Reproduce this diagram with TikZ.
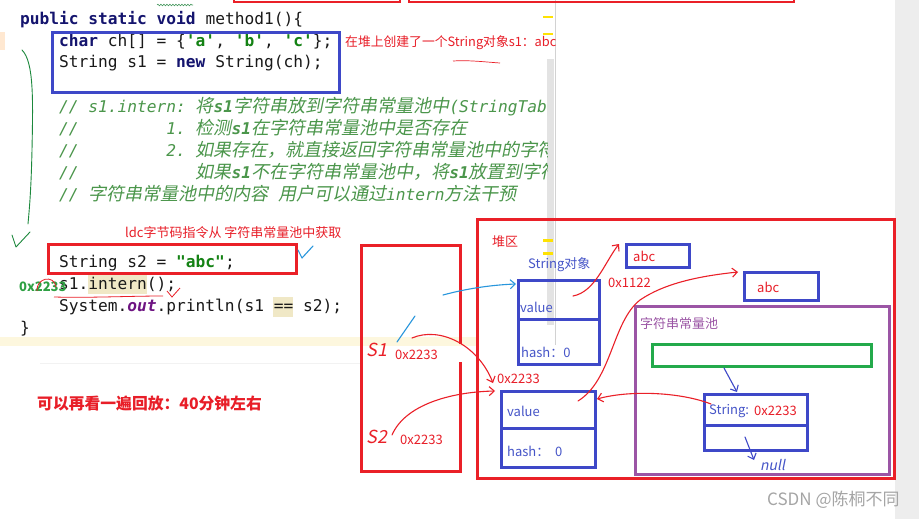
\documentclass[tikz,border=0pt]{standalone}
\usepackage{fontspec}
\usetikzlibrary{arrows.meta,decorations.pathmorphing}
\setmainfont{Noto Sans CJK SC}
\setmonofont{DejaVu Sans Mono}
\newfontfamily\cjkslant[FakeSlant=0.2]{Noto Sans CJK SC}
\newfontfamily\yhfont{Noto Sans CJK SC}
\newcommand\cz[1]{{\cjkslant\fontsize{18}{18}\selectfont #1}}
\definecolor{myred}{RGB}{234,32,40}
\definecolor{annred}{RGB}{232,30,40}
\definecolor{myblue}{RGB}{62,72,200}
\definecolor{txtblue}{RGB}{70,85,200}
\definecolor{mypurple}{RGB}{155,85,165}
\definecolor{mygreen}{RGB}{35,170,75}
\definecolor{penblue}{RGB}{40,150,220}
\definecolor{kwc}{RGB}{20,20,110}
\definecolor{litc}{RGB}{20,130,20}
\definecolor{cmtc}{RGB}{75,150,75}
\definecolor{outc}{RGB}{110,20,130}
\definecolor{hlc}{RGB}{240,232,198}
\definecolor{bandc}{RGB}{253,247,222}
\definecolor{codetxt}{RGB}{25,25,25}
\definecolor{csdngray}{RGB}{165,165,165}
\definecolor{hlgreen}{RGB}{46,160,67}
\newcommand\ckw[1]{{\bfseries\color{kwc}#1}}
\newcommand\clit[1]{{\bfseries\color{litc}#1}}
\begin{document}
\begin{tikzpicture}[x=1pt,y=-1pt,
  codeline/.style={anchor=base west, inner sep=0, text=codetxt, font=\ttfamily\fontsize{16.2}{18}\selectfont},
  cmt/.style={anchor=base west, inner sep=0, text=cmtc, font=\ttfamily\itshape\fontsize{16.2}{18}\selectfont},
  lab/.style={anchor=west, inner sep=0, font=\yhfont\fontsize{13}{13}\selectfont},
  hand/.style={anchor=center, inner sep=0, text=myred, font=\cjkslant\fontsize{18}{18}\selectfont},
  cell/.style={draw=myblue, line width=2.6pt, anchor=north west, inner sep=0},
  redpen/.style={draw=myred, line width=1.1pt, line cap=round, line join=round},
  bluepen/.style={draw=penblue, line width=1.1pt, line cap=round, line join=round},
  navypen/.style={draw=myblue, line width=1.1pt, line cap=round, line join=round},
  greenpen/.style={draw=mygreen!80!black, line width=0.9pt, line cap=round, line join=round},
  barb/.style={-{Straight Barb[length=5pt,width=9pt]}}
]
\useasboundingbox (0,0) rectangle (919,519);
\fill[white] (0,0) rectangle (919,519);
\fill[gray!14] (895,0) rectangle (919,519);

% editor decorations
\fill[bandc] (0,337) rectangle (476,346);
\draw[gray!10, line width=0.8pt] (40,363) -- (360,363);
\fill[orange!18] (0,32) rectangle (5,50);
\fill[hlc] (88,274) rectangle (147,294);
\fill[hlc] (273,297) rectangle (293,317);
\fill[gray!22] (547,59) rectangle (554,325);
\draw[gray!35, line width=0.5pt] (555,0) -- (555,345);
\fill[yellow!85!orange] (543,16) rectangle (553,18.5);
\fill[yellow!85!orange] (543,33) rectangle (553,35.5);
\fill[yellow!85!orange] (543,239) rectangle (553,241.5);
\fill[yellow!85!orange] (543,252) rectangle (553,254.5);

% top remnants
\draw[myred, line width=2.5pt] (234,-3) -- (234,2) -- (400,2) -- (400,-3);
\draw[myred, line width=2.5pt] (409,-3) -- (409,2) -- (794,2) -- (794,-3);
\draw[mygreen!60!gray, line width=0.6pt, decorate, decoration={snake, amplitude=0.8pt, segment length=3pt}] (157,5) -- (193,5);

% code
\node[codeline] (l0) at (20,25) {\ckw{public static void} method1()\{};
\node[codeline] (l1) at (59,47) {\ckw{char} ch[] = \{\clit{'a'}, \clit{'b'}, \clit{'c'}\};};
\node[codeline] (l2) at (59,68) {String s1 = \ckw{new} String(ch);};
\begin{scope}
\clip (0,95) rectangle (547,210);
\node[cmt] (c1) at (59,113) {//~s1.intern:~\cz{将}{\bfseries s1}\cz{字符串放到字符串常量池中}(StringTabl};
\node[cmt] (c2) at (59,134) {//~~~~~~~~~1.~\cz{检测}{\bfseries s1}\cz{在字符串常量池中是否存在}};
\node[cmt] (c3) at (59,157) {//~~~~~~~~~2.~\cz{如果存在，就直接返回字符串常量池中的字符}};
\node[cmt] (c4) at (59,178) {//~~~~~~~~~~~~\cz{如果}{\bfseries s1}\cz{不在字符串常量池中，将}{\bfseries s1}\cz{放置到字符}};
\node[cmt] (c5) at (59,200) {//~\cz{字符串常量池中的内容}~\cz{用户可以通过}intern\cz{方法干预}};
\end{scope}
\node[codeline] (l11) at (59,267) {String s2 = \clit{"abc"};};
\node[codeline] (l12) at (59,289) {s1.intern();};
\node[codeline] (l13) at (59,311) {System.{\bfseries\itshape\color{outc}out}.println(s1 == s2);};
\node[codeline] (l14) at (20,333) {\}};

% code annotations
\node[draw=myblue, line width=2.8pt, anchor=north west, minimum width=287, minimum height=60, inner sep=0] (cbox) at (51,31) {};
\node[lab, text=annred, font=\yhfont\fontsize{12.8}{13}\selectfont] (t1) at (345,43) {在堆上创建了一个String对象s1：abc};
\draw[myred, line width=0.7pt] (453,61) .. controls (470,60) and (485,62) .. (500,63);
\node[lab, text=annred] (t2) at (125,233) {ldc字节码指令从 字符串常量池中获取};
\node[draw=myred, line width=3pt, anchor=north west, minimum width=248, minimum height=29, inner sep=0] (s2box) at (47,243) {};
\draw[bluepen] (298,250) -- (302,258) -- (313,246);
\node[lab, text=hlgreen, font=\yhfont\bfseries\fontsize{13}{14}\selectfont] (g0) at (19,287) {0x2233};
\draw[myred, line width=0.8pt] (37,291) .. controls (36,278) and (54,274) .. (56,287);
\draw[myred, line width=0.8pt] (54,297) .. controls (90,298) and (130,296) .. (163,296);
\draw[myred, line width=0.8pt] (167,291) -- (172,297) -- (180,288);
\draw[greenpen] (22,50) .. controls (34,62) and (33,100) .. (32,150) .. controls (31,195) and (29,212) .. (28,224);
\draw[greenpen] (12,235) -- (16,247) -- (30,232);
\node[lab, text=annred, font=\yhfont\bfseries\fontsize{15.8}{16}\selectfont] (t3) at (37,404) {可以再看一遍回放：40分钟左右};

% stack
\draw[myred, line width=3pt] (460,344) -- (460,245) -- (361,245) -- (361,471) -- (460,471) -- (460,362);
\node[hand] (S1) at (377,350) {S1};
\node[hand] (S2) at (377,437) {S2};
\node[lab, text=annred] (a1) at (395,355) {0x2233};
\node[lab, text=annred] (a2) at (400,440) {0x2233};

% heap
\node[draw=myred, line width=3pt, anchor=north west, minimum width=417, minimum height=259, inner sep=0] (heap) at (476,218) {};
\node[lab, text=annred] (heapl) at (492,242) {堆区};
\node[lab, text=txtblue] (sobj) at (528,265) {String对象};
\node[cell, minimum width=81, minimum height=39] (v1) at (517,279) {};
\node[cell, minimum width=81, minimum height=45] (h1) at (517,318) {};
\node[lab, text=txtblue] (v1t) at (520,307) {value};
\node[lab, text=txtblue] (h1t) at (521,352) {hash：0};
\node[cell, minimum width=63, minimum height=23] (abc1) at (625,243) {};
\node[lab, text=annred] (abc1t) at (633,256) {abc};
\node[cell, minimum width=74, minimum height=28] (abc2) at (743,271) {};
\node[lab, text=annred] (abc2t) at (757,287) {abc};
\node[lab, text=annred] (x1122) at (608,283) {0x1122};
\node[lab, text=annred] (a3) at (497,379) {0x2233};
\node[cell, minimum width=94, minimum height=37] (v2) at (500,390) {};
\node[cell, minimum width=94, minimum height=39] (h2) at (500,427) {};
\node[lab, text=txtblue] (v2t) at (507,411) {value};
\node[lab, text=txtblue] (h2t) at (507,451) {hash：~~0};

% pool
\node[draw=mypurple, line width=3pt, anchor=north west, minimum width=254, minimum height=168, inner sep=0] (pool) at (634,305) {};
\node[lab, text=mypurple] (pooll) at (640,324) {字符串常量池};
\node[draw=mygreen, line width=3pt, anchor=north west, minimum width=219, minimum height=22, inner sep=0] (tbl) at (651,343) {};
\node[cell, minimum width=103, minimum height=31] (e1) at (703,393) {};
\node[cell, minimum width=103, minimum height=25] (e2) at (703,424) {};
\node[lab, text=txtblue] (e1t) at (709,411) {String:};
\node[lab, text=annred] (e1a) at (754,411) {0x2233};
\node[lab, text=txtblue, font=\cjkslant\fontsize{14}{14}\selectfont] (nul) at (760,465) {null};

% connectors
\coordinate (p1) at (397,342);
\coordinate (p2) at (415,316);
\coordinate (p3) at (443,295);
\draw[bluepen] (p1) -- (p2);
\draw[bluepen, barb] (p3) .. controls (465,289) and (490,285) .. ([xshift=-1pt,yshift=-5pt]v1.north west);
\coordinate (r1) at (412,338);
\draw[redpen, barb] (r1) .. controls (440,326) and (478,345) .. (493,383);
\coordinate (r2) at (392,435);
\draw[redpen, barb] (r2) .. controls (405,405) and (450,392) .. (495,391);
\coordinate (r3) at (573,296);
\draw[redpen, barb] (r3) .. controls (595,292) and (605,262) .. (619,244);
\coordinate (r4) at (578,401);
\draw[redpen, barb] (r4) .. controls (612,380) and (612,322) .. (640,300) .. controls (665,283) and (700,276) .. (738,272);
\coordinate (r5) at (711,404);
\draw[redpen, barb] (r5) .. controls (680,392) and (630,390) .. (597,399);
\draw[navypen, barb] ([xshift=-38pt]tbl.south) -- (737,392);
\coordinate (n1) at (745,437);
\draw[navypen, barb] (n1) -- (754,460);

% watermark
\node[lab, text=csdngray, font=\yhfont\fontsize{17}{17}\selectfont] (wm) at (767,500) {CSDN @陈桐不同};
\end{tikzpicture}
\end{document}
